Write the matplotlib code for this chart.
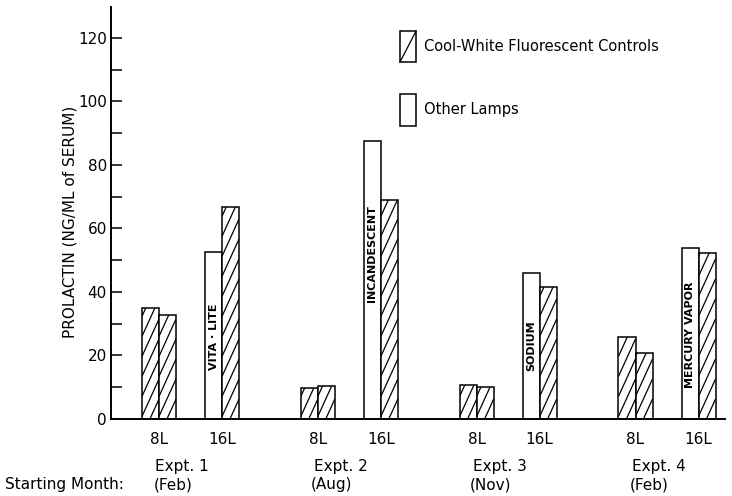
import numpy as np
import matplotlib.pyplot as plt
from matplotlib.patches import Patch, Rectangle
from matplotlib.lines import Line2D
from matplotlib.legend_handler import HandlerPatch
from matplotlib.transforms import blended_transform_factory

# Serum prolactin, ng/ml
expts = ['Expt. 1', 'Expt. 2', 'Expt. 3', 'Expt. 4']
months = ['(Feb)', '(Aug)', '(Nov)', '(Feb)']
photoperiods = ['8L', '16L']
ctrl_8L_a = [35.0, 9.7, 10.7, 25.8]     # cool-white controls, 8L (first bar)
ctrl_8L_b = [32.7, 10.4, 10.0, 20.8]    # cool-white controls, 8L (second bar)
lamp_16L = [52.5, 87.4, 46.0, 53.8]     # other lamps, 16L
ctrl_16L = [66.7, 69.0, 41.5, 52.2]     # cool-white controls, 16L
lamp_names = ['VITA · LITE', 'INCANDESCENT', 'SODIUM', 'MERCURY VAPOR']
lamp_label_y = [26, 52, 23, 26.5]

plt.rcParams['font.family'] = 'DejaVu Sans'

fig = plt.figure(figsize=(7.32, 4.96), dpi=100)
ax = fig.add_axes([111/732, 1 - 419/496, 614/732, 412/496])

group_step = 2.52
width = 0.27
lw = 1.1

def hatch_bar(bar, slope=43.6, spacing=6.3):
    # steep diagonal hatching clipped to the bar
    x0 = bar.get_x()
    w = bar.get_width()
    h = bar.get_height()
    for c in np.arange(-slope * w, h + spacing, spacing):
        ln, = ax.plot([x0, x0 + w], [c, c + slope * w], color='black', lw=0.9,
                      solid_capstyle='butt')
        ln.set_clip_path(bar)


class HandlerDiag(HandlerPatch):
    # legend box with a single diagonal stroke when the patch is hatched
    def create_artists(self, legend, orig_handle, xdescent, ydescent, width,
                       height, fontsize, trans):
        r = Rectangle((-xdescent, -ydescent), width, height, facecolor='white',
                      edgecolor='black', linewidth=lw, transform=trans)
        arts = [r]
        if orig_handle.get_hatch():
            d = Line2D([-xdescent, -xdescent + width],
                       [-ydescent, -ydescent + height], color='black', lw=0.9,
                       transform=trans)
            arts.append(d)
        return arts


for i in range(len(expts)):
    base = i * group_step
    # 8L: two control bars
    for val, off in [(ctrl_8L_a[i], -width), (ctrl_8L_b[i], 0)]:
        b = ax.bar(base + off, val, width, align='edge', facecolor='white',
                   edgecolor='black', linewidth=lw, zorder=2)[0]
        hatch_bar(b)
    # 16L: other lamp + control
    pos16 = base + 1
    ax.bar(pos16 - width, lamp_16L[i], width, align='edge', facecolor='white',
           edgecolor='black', linewidth=lw, zorder=2)
    b = ax.bar(pos16, ctrl_16L[i], width, align='edge', facecolor='white',
               edgecolor='black', linewidth=lw, zorder=2)[0]
    hatch_bar(b)
    ax.text(pos16 - width / 2, lamp_label_y[i], lamp_names[i], rotation=90,
            ha='center', va='center', fontsize=8, fontweight='bold', zorder=4)

ax.set_xlim(-0.762, 8.98)
ax.set_ylim(0, 129.7)

tick_pos = [i * group_step + j for i in range(len(expts)) for j in range(2)]
ax.set_xticks(tick_pos)
ax.set_xticklabels(photoperiods * len(expts), fontsize=11)
ax.tick_params(axis='x', length=0, pad=9)

ax.set_yticks(np.arange(0, 121, 20))
ax.set_yticks(np.arange(10, 121, 20), minor=True)
ax.tick_params(axis='y', which='both', direction='in', length=8, width=1.1,
               labelsize=11, pad=3)

for s in ['top', 'right']:
    ax.spines[s].set_visible(False)
ax.spines['left'].set_linewidth(1.4)
ax.spines['bottom'].set_linewidth(1.4)

trans = blended_transform_factory(ax.transData, fig.transFigure)
for i in range(len(expts)):
    cx = i * group_step + 0.5
    ax.text(cx - 0.13, 1 - 466/496, expts[i], transform=trans, ha='center',
            va='center', fontsize=11)
    ax.text(cx - 0.28, 1 - 485/496, months[i], transform=trans, ha='center',
            va='center', fontsize=11)
fig.text(5/732, 1 - 485/496, 'Starting Month:', ha='left', va='center', fontsize=11)

fig.text(70/732, 1 - 222/496, 'PROLACTIN (NG/ML of SERUM)', rotation=90,
         ha='center', va='center', fontsize=11)

handles = [Patch(facecolor='white', edgecolor='black', hatch='/'),
           Patch(facecolor='white', edgecolor='black')]
fig.legend(handles, ['Cool-White Fluorescent Controls', 'Other Lamps'],
           handler_map={Patch: HandlerDiag()},
           loc='upper left', bbox_to_anchor=(400/732, 1 - 31/496),
           frameon=False, fontsize=10.5, handlelength=1.1, handleheight=2.9,
           labelspacing=2.22, handletextpad=0.55, borderpad=0, borderaxespad=0)

fig.savefig('out.png', dpi=100)
